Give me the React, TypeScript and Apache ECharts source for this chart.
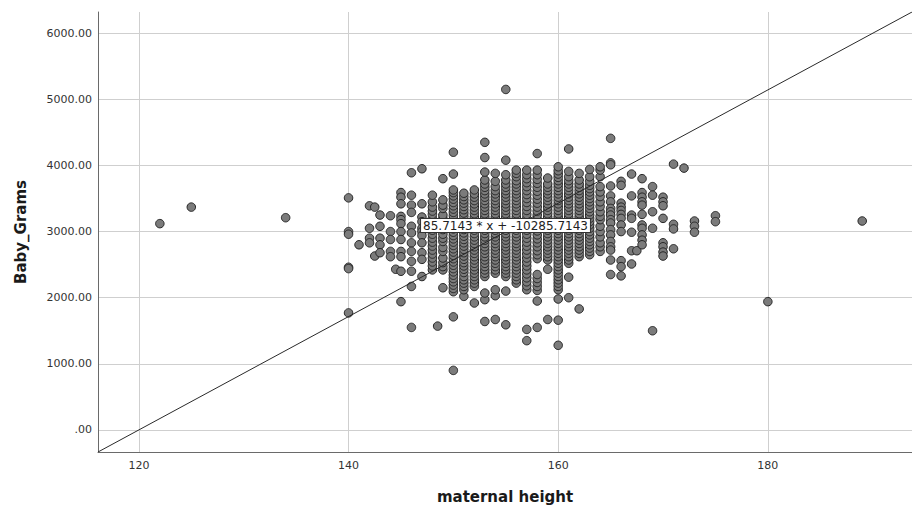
import React, { useEffect, useRef } from 'react';
import * as echarts from 'echarts';

// Axis range (x) and fit line
const xRange = [116.1, 193.75];
const slope = 85.7143;
const intercept = -10285.7143;
const fitLabel = '85.7143 * x + -10285.7143';
const xName = 'maternal height';
const yName = 'Baby_Grams';
const xTicks = [120, 140, 160, 180];
const yTicks = [0, 1000, 2000, 3000, 4000, 5000, 6000];

// Sparse / edge columns (maternal height -> baby grams)
const edgeHeights = [122, 125, 134, 140, 141, 142, 142.5, 143, 144, 144.5, 145, 146, 147, 148.5,
  165, 166, 167, 167.5, 168, 169, 170, 171, 172, 173, 175, 180, 189];
const edgeGrams = [
  [3120], [3370], [3210],
  [3510, 3000, 2960, 2460, 2440, 1770],
  [2800],
  [3390, 3050, 2900, 2830],
  [3370, 2630],
  [3250, 3080, 2900, 2800, 2680],
  [3240, 3000, 2880, 2700, 2620],
  [2430],
  [3590, 3520, 3420, 3230, 3180, 3120, 3000, 2880, 2700, 2620, 2400, 1940],
  [3890, 3550, 3400, 3290, 3080, 2980, 2830, 2700, 2550, 2400, 2170, 1550],
  [3950, 3420, 3220, 3150, 3050, 3000, 2940, 2830, 2680, 2580, 2320],
  [1570],
  [4410, 4040, 4010, 3690, 3540, 3450, 3350, 3300, 3250, 3180, 3130, 3030, 2950, 2850, 2770, 2720, 2570, 2350],
  [3760, 3700, 3430, 3370, 3320, 3260, 3200, 3100, 3000, 2560, 2470, 2330],
  [3870, 3540, 3250, 3200, 2990, 2710, 2510],
  [2710],
  [3800, 3590, 3520, 3450, 3400, 3260, 3100, 3050, 2950, 2870, 2800],
  [3680, 3550, 3300, 3050, 1500],
  [3520, 3450, 3390, 3200, 2830, 2770, 2690, 2630],
  [4020, 3110, 3040, 2740],
  [3960],
  [3160, 3080, 2990],
  [3240, 3150],
  [1940],
  [3160],
];

// Dense core columns
const coreHeights = [148, 149, 150, 151, 152, 153, 154, 155, 156, 157, 158, 159, 160, 161, 162, 163, 164];
const coreGrams = [
  [2420, 2480, 2540, 2600, 2660, 2720, 2780, 2840, 2900, 2960, 3020, 3080, 3140, 3200, 3260, 3310, 3370, 3450, 3550],
  [2150, 2420, 2470, 2530, 2600, 2700, 2760, 2850, 2900, 2960, 3030, 3100, 3150, 3200, 3250, 3350, 3400, 3480, 3800],
  [900, 1710, 2090, 2140, 2190, 2240, 2290, 2340, 2390, 2440, 2490, 2540, 2590, 2640, 2690, 2740, 2790, 2840, 2890, 2940,
    2990, 3040, 3090, 3140, 3190, 3240, 3290, 3340, 3390, 3440, 3490, 3540, 3590, 3630, 3870, 4200],
  [2020, 2120, 2170, 2220, 2270, 2320, 2380, 2430, 2480, 2530, 2580, 2630, 2680, 2730, 2780, 2830, 2880, 2930, 2980,
    3030, 3080, 3130, 3180, 3230, 3280, 3330, 3380, 3430, 3480, 3530, 3580],
  [1920, 2170, 2220, 2270, 2320, 2370, 2420, 2470, 2520, 2570, 2620, 2670, 2720, 2770, 2820, 2870, 2920, 2970, 3020,
    3070, 3120, 3170, 3220, 3270, 3320, 3370, 3420, 3470, 3520, 3570, 3630],
  [1640, 1970, 2070, 2320, 2370, 2420, 2470, 2520, 2570, 2620, 2670, 2720, 2770, 2820, 2870, 2920, 2970, 3020, 3070,
    3120, 3170, 3220, 3270, 3320, 3370, 3420, 3470, 3520, 3570, 3620, 3670, 3720, 3780, 3900, 4120, 4350],
  [1670, 2030, 2120, 2370, 2420, 2470, 2520, 2570, 2620, 2670, 2720, 2770, 2820, 2870, 2920, 2970, 3020, 3070, 3120,
    3170, 3220, 3270, 3320, 3370, 3420, 3470, 3520, 3570, 3620, 3680, 3760, 3880],
  [1590, 2100, 2320, 2370, 2420, 2470, 2520, 2570, 2620, 2670, 2720, 2770, 2820, 2870, 2920, 2970, 3020, 3070, 3120,
    3170, 3220, 3270, 3320, 3370, 3420, 3470, 3520, 3570, 3620, 3670, 3720, 3780, 3860, 4080, 5150],
  [2220, 2270, 2320, 2370, 2420, 2470, 2520, 2570, 2620, 2670, 2720, 2770, 2820, 2870, 2920, 2970, 3020, 3070, 3120,
    3170, 3220, 3270, 3320, 3370, 3420, 3470, 3520, 3570, 3620, 3670, 3720, 3770, 3830, 3880, 3930],
  [1350, 1520, 2120, 2180, 2240, 2300, 2360, 2420, 2480, 2540, 2600, 2660, 2720, 2780, 2840, 2900, 2960, 3020, 3080,
    3140, 3200, 3260, 3320, 3380, 3440, 3500, 3560, 3620, 3680, 3740, 3800, 3860, 3930],
  [1550, 1950, 2110, 2170, 2230, 2290, 2350, 2590, 2650, 2710, 2770, 2830, 2890, 2950, 3010, 3070, 3130, 3190, 3250,
    3310, 3370, 3430, 3490, 3550, 3610, 3670, 3730, 3790, 3860, 3930, 4180],
  [1670, 2430, 2570, 2620, 2670, 2720, 2770, 2820, 2870, 2920, 2970, 3020, 3070, 3120, 3170, 3220, 3270, 3320, 3370,
    3420, 3470, 3520, 3570, 3620, 3670, 3720, 3810],
  [1280, 1660, 1980, 2120, 2170, 2220, 2270, 2320, 2370, 2420, 2470, 2520, 2570, 2620, 2670, 2720, 2770, 2820, 2870,
    2920, 2970, 3020, 3070, 3120, 3170, 3220, 3270, 3320, 3370, 3420, 3470, 3520, 3570, 3620, 3670, 3720, 3770, 3820,
    3870, 3920, 3980],
  [2000, 2310, 2520, 2570, 2620, 2670, 2720, 2770, 2820, 2870, 2920, 2970, 3020, 3070, 3120, 3170, 3220, 3270, 3320,
    3370, 3420, 3470, 3520, 3570, 3620, 3670, 3720, 3770, 3830, 3910, 4250],
  [1830, 2620, 2670, 2720, 2770, 2820, 2870, 2920, 2970, 3020, 3070, 3120, 3170, 3220, 3270, 3320, 3370, 3420, 3470,
    3520, 3570, 3620, 3670, 3720, 3780, 3880],
  [2650, 2700, 2750, 2800, 2850, 2900, 2950, 3000, 3050, 3100, 3150, 3200, 3250, 3300, 3350, 3400, 3450, 3500, 3550,
    3600, 3650, 3700, 3760, 3830, 3940],
  [2700, 2770, 2830, 2920, 3000, 3080, 3180, 3230, 3300, 3380, 3450, 3530, 3600, 3680, 3830, 3930, 3980],
];

const FONT = '"DejaVu Sans", "Open Sans", sans-serif';

export default function App() {
  const ref = useRef<HTMLDivElement>(null);
  useEffect(() => {
    if (!ref.current) return;
    const chart = echarts.init(ref.current, undefined, { renderer: 'svg' });
    const points: number[][] = [];
    edgeHeights.forEach((h, i) => edgeGrams[i].forEach((g) => points.push([h, g])));
    coreHeights.forEach((h, i) => coreGrams[i].forEach((g) => points.push([h, g])));
    const yMin = slope * xRange[0] + intercept;
    const yMax = slope * xRange[1] + intercept;
    chart.setOption({
      animation: false,
      backgroundColor: '#ffffff',
      grid: { left: 98, right: 0, top: 12, bottom: 54, outerBoundsMode: 'none', containLabel: false },
      xAxis: {
        type: 'value',
        min: xRange[0],
        max: xRange[1],
        splitNumber: 5,
        name: xName,
        nameLocation: 'middle',
        nameGap: 37,
        nameTextStyle: { fontFamily: FONT, fontSize: 15, fontWeight: 'bold', color: '#1a1a1a' },
        axisLine: { show: true, onZero: false, lineStyle: { color: '#6a6a6a', width: 1 } },
        axisTick: { show: false },
        axisLabel: {
          color: '#333', fontFamily: FONT, fontSize: 11, margin: 8,
          formatter: (v: number) => (xTicks.includes(Math.round(v * 1000) / 1000) ? String(v) : ''),
        },
        splitLine: { show: true, showMinLine: false, showMaxLine: false, lineStyle: { color: '#cfcfcf', width: 1 } },
      },
      yAxis: {
        type: 'value',
        min: yMin,
        max: yMax,
        splitNumber: 5,
        name: yName,
        nameLocation: 'middle',
        nameGap: 70,
        nameTextStyle: { fontFamily: FONT, fontSize: 15, fontWeight: 'bold', color: '#1a1a1a' },
        axisLine: { show: true, onZero: false, lineStyle: { color: '#6a6a6a', width: 1 } },
        axisTick: { show: false },
        axisLabel: {
          color: '#333', fontFamily: FONT, fontSize: 11, margin: 6,
          formatter: (v: number) => {
            const r = Math.round(v * 1000) / 1000;
            if (!yTicks.includes(r)) return '';
            return r === 0 ? '.00' : r.toFixed(2);
          },
        },
        splitLine: { show: true, showMinLine: false, showMaxLine: false, lineStyle: { color: '#cfcfcf', width: 1 } },
      },
      series: [
        {
          type: 'scatter',
          data: points,
          symbol: 'circle',
          symbolSize: 8.5,
          itemStyle: { color: '#7b7b7b', borderColor: '#262626', borderWidth: 1, opacity: 1 },
          z: 2,
        },
        {
          type: 'line',
          data: [[xRange[0], yMin], [xRange[1], yMax]],
          symbol: 'none',
          lineStyle: { color: '#2a2a2a', width: 1 },
          z: 3,
        },
      ],
      graphic: [
        {
          type: 'text',
          x: 505.5,
          y: 225.5,
          z: 100,
          style: {
            text: fitLabel,
            align: 'center',
            verticalAlign: 'middle',
            fill: '#222',
            font: `12px ${FONT}`,
            backgroundColor: '#ffffff',
            borderColor: '#333',
            borderWidth: 1,
            padding: [1, 2, 0, 2],
          },
        },
      ],
    });
    return () => chart.dispose();
  }, []);
  return <div ref={ref} style={{ position: 'fixed', left: 0, top: 0, width: 912, height: 506 }} />;
}
